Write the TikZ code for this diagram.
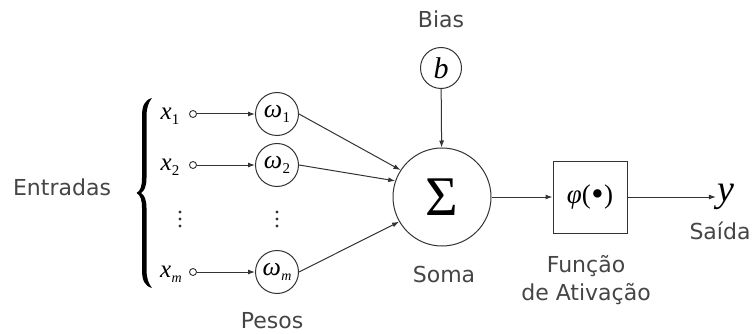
\documentclass[tikz,border=0pt]{standalone}
\usepackage{fontspec}
\setmainfont{DejaVu Sans}
\newfontfamily\tms{Liberation Serif}
\usetikzlibrary{arrows.meta}
\definecolor{txt}{HTML}{454545}
\definecolor{ln}{HTML}{333333}
\newcommand\xsub[2]{{\tms\itshape #1}\kern0.3pt\raisebox{-5pt}{\tms\fontsize{15}{15}\selectfont #2}}
\newcommand\xsubit[2]{{\tms\itshape #1}\kern0.3pt\raisebox{-5pt}{\tms\itshape\fontsize{14}{14}\selectfont #2}}
\begin{document}
\begin{tikzpicture}[x=1pt,y=-1pt,
  lbl/.style={font=\fontsize{22}{26}\selectfont, text=txt, inner sep=0pt, anchor=base},
  wcirc/.style={circle, draw=ln, line width=1pt, minimum size=43pt, inner sep=0pt, font=\fontsize{26}{26}\selectfont},
  dotin/.style={circle, draw=ln, line width=0.9pt, minimum size=7pt, inner sep=0pt},
  conn/.style={draw=ln, line width=1pt, -{Latex[length=7pt,width=5pt]}},
  mathlbl/.style={inner sep=0pt, font=\fontsize{25}{25}\selectfont}
]
\useasboundingbox (0,0) rectangle (752,334);

% inputs
\node[mathlbl] (l1) at (170,116) {\xsub{x}{1}};
\node[mathlbl] (l2) at (170,167) {\xsub{x}{2}};
\node[mathlbl] (lm) at (171,274) {\xsubit{x}{m}};
\node[dotin] (i1) at (193,114) {};
\node[dotin] (i2) at (193,165) {};
\node[dotin] (im) at (193,272) {};

% weights
\node[wcirc] (w1) at (277,114) {\xsub{ω}{1}};
\node[wcirc] (w2) at (277,165) {\xsub{ω}{2}};
\node[wcirc] (wm) at (277,272) {\xsubit{ω}{m}};

% vertical dots
\foreach \yy in {212,219,226}{
  \fill[ln] (180,\yy) circle (1.6);
  \fill[ln] (277,\yy) circle (1.6);
}

% brace
\fill[black] (152,98) .. controls (144.5,100) and (142,106) .. (142,116) -- (142,178)
  .. controls (142,186) and (140.5,191) .. (136.5,193)
  .. controls (140.5,195) and (142,200) .. (142,208) -- (142,270)
  .. controls (142,280) and (144.5,286) .. (152,288)
  .. controls (148.5,284) and (146.5,278) .. (146.5,270) -- (146.5,208)
  .. controls (146.5,200) and (144.5,195) .. (141,193)
  .. controls (144.5,191) and (146.5,186) .. (146.5,178) -- (146.5,116)
  .. controls (146.5,108) and (148.5,102) .. (152,98) -- cycle;

% sum, bias, activation, output
\node[circle, draw=ln, line width=1pt, minimum size=98pt, inner sep=0pt] (s) at (442,197)
  {\tms\fontsize{56}{56}\selectfont Σ};
\node[wcirc, minimum size=41pt] (b) at (441,68) {\tms\itshape\fontsize{30}{30}\selectfont b};
\node[draw=ln, line width=1pt, minimum width=74pt, minimum height=72pt, inner sep=0pt] (f) at (590,197)
  {\tms\fontsize{27}{27}\selectfont{\itshape φ}(\kern0.5pt\raisebox{-1.6pt}{\scalebox{1.3}{•}}\kern0.5pt)};
\node[inner sep=1.5pt] (yout) at (726,197) {\tms\itshape\fontsize{38}{38}\selectfont y};

% connectors
\draw[conn] (i1) -- (w1);
\draw[conn] (i2) -- (w2);
\draw[conn] (im) -- (wm);
\draw[conn] (w1.east) -- (s.147);
\draw[conn] (w2.east) -- (s.161);
\draw[conn] (wm.east) -- (s.210);
\draw[conn] (b) -- (s);
\draw[conn] (s) -- (f);
\draw[conn] (f) -- (yout);

% labels
\node[lbl] at (62,195) {Entradas};
\node[lbl] at (272,328) {Pesos};
\node[lbl] at (441,28) {Bias};
\node[lbl] at (444,282) {Soma};
\node[lbl] at (586,272) {Função};
\node[lbl] at (586,300) {de Ativação};
\node[lbl] at (720,239) {Saída};
\end{tikzpicture}
\end{document}
